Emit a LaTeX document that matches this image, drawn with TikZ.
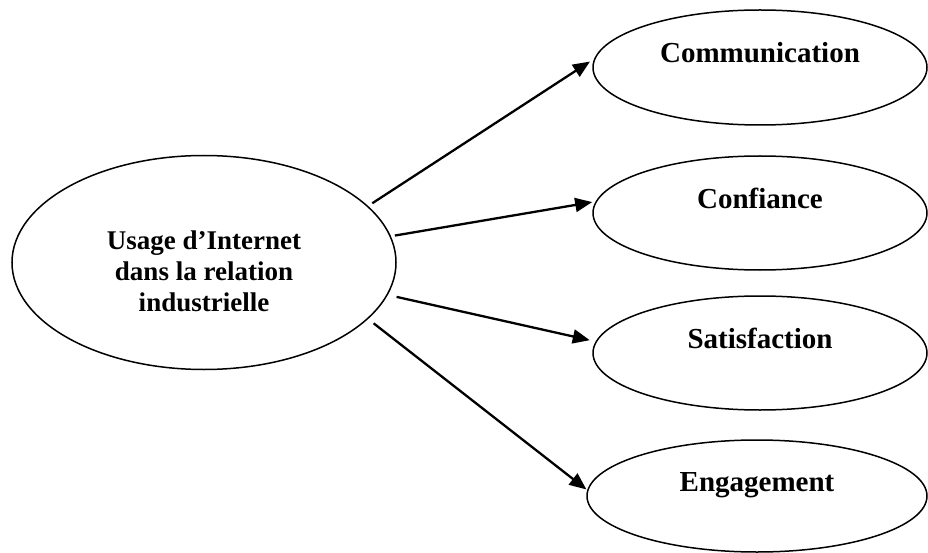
\documentclass[tikz,border=0pt]{standalone}
\usepackage{fontspec}
\setmainfont{Liberation Serif}
\usetikzlibrary{arrows.meta,shapes.geometric}
\begin{document}
\begin{tikzpicture}[x=1pt,y=-1pt,
  oval/.style={draw=black, line width=1.5pt, ellipse, inner sep=0pt},
  rlbl/.style={font=\fontsize{29}{33}\selectfont\bfseries, text height=19.5pt, text depth=29pt},
  arr/.style={line width=2.3pt, -{Triangle[length=17pt,width=14pt]}}]
\useasboundingbox (0,0) rectangle (928,553);
\node[oval, minimum width=384pt, minimum height=214pt,
  label={[font=\fontsize{27}{31}\selectfont\bfseries, align=center, yshift=-9pt]center:Usage d’Internet\\dans la relation\\industrielle}] (u) at (204,262.5) {};
\node[oval, rlbl, minimum width=334pt, minimum height=115pt] (c) at (760,67.5) {Communication};
\node[oval, rlbl, minimum width=334pt, minimum height=114pt] (f) at (760,213) {Confiance};
\node[oval, rlbl, minimum width=334pt, minimum height=114pt] (s) at (760,353) {Satisfaction};
\node[oval, rlbl, minimum width=340pt, minimum height=112pt] (e) at (757,496) {Engagement};
\draw[arr, shorten <=5pt, shorten >=5pt] (u.19) -- (c.177.5);
\draw[arr, shorten <=4pt, shorten >=3.5pt] (u.8) -- (f.176.6);
\draw[arr, shorten <=9pt, shorten >=6pt] (u.-10.5) -- (s.176.7);
\draw[arr, shorten <=7pt, shorten >=1pt] (u.-19.8) -- (e.178);
\end{tikzpicture}
\end{document}
